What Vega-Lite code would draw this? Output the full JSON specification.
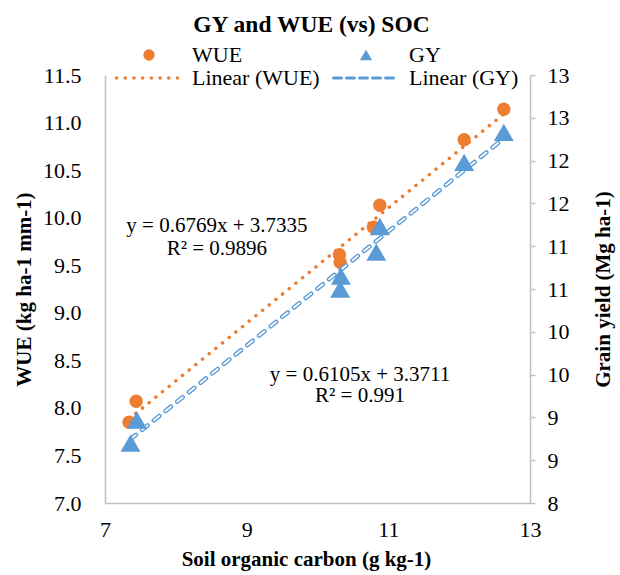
{
  "$schema": "https://vega.github.io/schema/vega-lite/v6.json",
  "width": 425,
  "height": 428,
  "autosize": {"type": "none"},
  "padding": {"left": 105, "top": 75, "right": 90, "bottom": 72},
  "background": "white",
  "config": {
    "font": "Liberation Serif",
    "view": {"stroke": null},
    "axis": {
      "grid": false,
      "domainColor": "#c0c0c0",
      "domainWidth": 1.5,
      "labelFont": "Liberation Serif",
      "labelFontSize": 22,
      "labelColor": "black",
      "titleFont": "Liberation Serif",
      "titleFontSize": 21,
      "titleFontWeight": "bold",
      "titleColor": "black"
    }
  },
  "title": {
    "text": "GY and WUE (vs) SOC",
    "font": "Liberation Serif",
    "fontSize": 23.5,
    "fontWeight": "bold",
    "color": "black",
    "anchor": "middle",
    "frame": "group",
    "dx": -6,
    "offset": 8
  },
  "datasets": {
    "wue": [
      {"soc": 7.34, "wue": 7.85},
      {"soc": 7.44, "wue": 8.07},
      {"soc": 10.31, "wue": 9.61},
      {"soc": 10.32, "wue": 9.53},
      {"soc": 10.79, "wue": 9.9},
      {"soc": 10.88, "wue": 10.13},
      {"soc": 12.07, "wue": 10.82},
      {"soc": 12.63, "wue": 11.14}
    ],
    "gy": [
      {"soc": 7.36, "gy": 8.7},
      {"soc": 7.45, "gy": 8.97},
      {"soc": 10.32, "gy": 10.5},
      {"soc": 10.33, "gy": 10.65},
      {"soc": 10.83, "gy": 10.93},
      {"soc": 10.88, "gy": 11.23},
      {"soc": 12.07, "gy": 11.98},
      {"soc": 12.63, "gy": 12.33}
    ],
    "notes": [
      {"soc": 8.58, "wue": 9.91, "label": "y = 0.6769x + 3.7335"},
      {"soc": 8.58, "wue": 9.67, "label": "R² = 0.9896"},
      {"soc": 10.6, "wue": 8.35, "label": "y = 0.6105x + 3.3711"},
      {"soc": 10.6, "wue": 8.12, "label": "R² = 0.991"}
    ]
  },
  "layer": [
    {
      "data": {"name": "wue"},
      "layer": [
        {
          "transform": [{"regression": "wue", "on": "soc"}],
          "mark": {"type": "line", "strokeWidth": 3.5, "strokeDash": [0.1, 8.5], "strokeCap": "round"},
          "encoding": {
            "x": {"field": "soc", "type": "quantitative", "title": "Soil organic carbon (g kg-1)",
              "scale": {"domain": [7, 13], "nice": false, "zero": false},
              "axis": {"values": [7, 9, 11, 13], "format": "d", "ticks": false, "labelPadding": 16, "titlePadding": 8, "titleX": 201, "labelFlush": false}},
            "y": {"field": "wue", "type": "quantitative", "title": "WUE (kg ha-1 mm-1)",
              "scale": {"domain": [7, 11.5], "nice": false, "zero": false},
              "axis": {"values": [7, 7.5, 8, 8.5, 9, 9.5, 10, 10.5, 11, 11.5], "format": ".1f", "ticks": false, "labelPadding": 24, "titlePadding": 8, "labelFlush": false}},
            "color": {
              "datum": "Linear (WUE)",
              "type": "nominal",
              "scale": {"domain": ["WUE", "GY", "Linear (WUE)", "Linear (GY)"], "range": ["#ED7D31", "#5B9BD5", "#ED7D31", "#5B9BD5"]},
              "legend": {
                "orient": "none",
                "legendX": 8,
                "legendY": -31,
                "direction": "horizontal",
                "columns": 2,
                "columnPadding": 7,
                "rowPadding": 1,
                "title": null,
                "padding": 0,
                "labelFont": "Liberation Serif",
                "labelFontSize": 22,
                "labelColor": "black",
                "labelLimit": 300,
                "symbolSize": 169,
                "symbolStrokeWidth": 1.5,
                "symbolOffset": 25,
                "labelOffset": 32,
                "encode": {
                  "symbols": {
                    "update": {
                      "shape": {"signal": "datum.value == 'WUE' ? 'circle' : datum.value == 'GY' ? 'triangle-up' : 'M-5,0H5'"},
                      "size": {"signal": "datum.value == 'WUE' ? 130 : datum.value == 'GY' ? 150 : 169"},
                      "fill": {"signal": "datum.value == 'WUE' ? '#ED7D31' : datum.value == 'GY' ? '#5B9BD5' : 'transparent'"},
                      "stroke": {"signal": "datum.value == 'Linear (WUE)' ? '#ED7D31' : datum.value == 'Linear (GY)' ? '#5B9BD5' : 'transparent'"},
                      "strokeWidth": {"signal": "datum.value == 'Linear (WUE)' ? 3.5 : datum.value == 'Linear (GY)' ? 3 : 0"},
                      "strokeDash": {"signal": "datum.value == 'Linear (WUE)' ? [0.1, 8.6] : datum.value == 'Linear (GY)' ? [8, 5] : [1, 0]"},
                      "strokeCap": {"value": "round"},
                      "opacity": {"value": 1}
                    }
                  }
                }
              }
            }
          }
        },
        {
          "mark": {"type": "point", "filled": true, "shape": "circle", "size": 180, "opacity": 1, "strokeWidth": 0},
          "encoding": {
            "x": {"field": "soc", "type": "quantitative", "title": "Soil organic carbon (g kg-1)"},
            "y": {"field": "wue", "type": "quantitative", "title": "WUE (kg ha-1 mm-1)"},
            "color": {"datum": "WUE", "type": "nominal"}
          }
        },
        {
          "data": {"name": "notes"},
          "mark": {"type": "text", "font": "Liberation Serif", "fontSize": 21, "color": "black", "align": "center", "baseline": "middle"},
          "encoding": {
            "x": {"field": "soc", "type": "quantitative", "title": "Soil organic carbon (g kg-1)"},
            "y": {"field": "wue", "type": "quantitative", "title": "WUE (kg ha-1 mm-1)"},
            "text": {"field": "label"}
          }
        }
      ]
    },
    {
      "data": {"name": "gy"},
      "layer": [
        {
          "transform": [{"regression": "gy", "on": "soc"}],
          "mark": {"type": "line", "strokeWidth": 4.5, "strokeDash": [7, 8], "strokeCap": "round"},
          "encoding": {
            "x": {"field": "soc", "type": "quantitative", "title": "Soil organic carbon (g kg-1)"},
            "y": {"field": "gy", "type": "quantitative", "title": "Grain yield (Mg ha-1)",
              "scale": {"domain": [8, 13], "nice": false, "zero": false},
              "axis": {"orient": "right", "values": [8, 8.5, 9, 9.5, 10, 10.5, 11, 11.5, 12, 12.5, 13], "format": ".0f", "ticks": true, "tickSize": 5, "tickColor": "#c0c0c0", "tickWidth": 1.5, "labelPadding": 12, "titlePadding": 44, "titleAngle": 270, "labelFlush": false}},
            "color": {"datum": "Linear (GY)", "type": "nominal"}
          }
        },
        {
          "transform": [{"regression": "gy", "on": "soc"}],
          "mark": {"type": "line", "strokeWidth": 1.8, "strokeDash": [7, 8], "strokeCap": "round", "color": "white"},
          "encoding": {
            "x": {"field": "soc", "type": "quantitative", "title": "Soil organic carbon (g kg-1)"},
            "y": {"field": "gy", "type": "quantitative", "title": "Grain yield (Mg ha-1)"}
          }
        },
        {
          "mark": {"type": "point", "filled": true, "shape": "triangle-up", "size": 400, "opacity": 1, "strokeWidth": 0},
          "encoding": {
            "x": {"field": "soc", "type": "quantitative", "title": "Soil organic carbon (g kg-1)"},
            "y": {"field": "gy", "type": "quantitative", "title": "Grain yield (Mg ha-1)"},
            "color": {"datum": "GY", "type": "nominal"}
          }
        }
      ]
    }
  ],
  "resolve": {"scale": {"y": "independent"}}
}
